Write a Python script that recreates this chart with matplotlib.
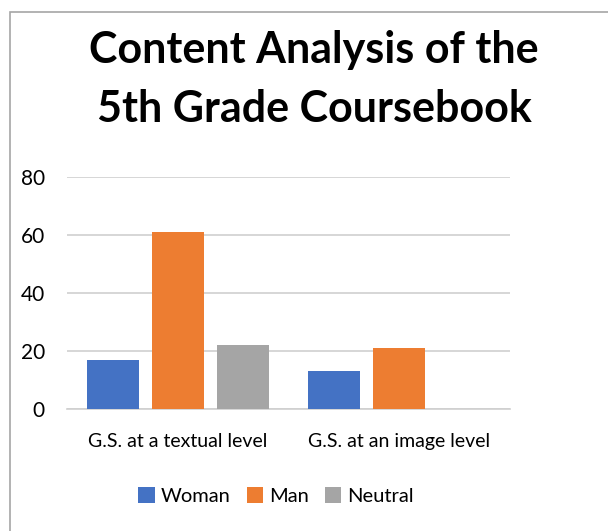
import matplotlib
matplotlib.use('Agg')
import matplotlib.pyplot as plt
import numpy as np
from matplotlib.patches import Rectangle

categories = ['G.S. at a textual level', 'G.S. at an image level']
series = ['Woman', 'Man', 'Neutral']
woman = [17, 13]
man = [61, 21]
neutral = [22, 0]
colors = ['#4472C4', '#ED7D31', '#A5A5A5']
yticks = [0, 20, 40, 60, 80]

plt.rcParams['font.family'] = ['Lato', 'DejaVu Sans']

W, H = 608, 531
fig = plt.figure(figsize=(W / 100, H / 100), dpi=100)

# frame of the chart area (cut off at right and bottom)
fig.patches.append(Rectangle((10 / W, -0.1), 1.2, 1 - 12 / H + 0.1, transform=fig.transFigure,
                             fill=False, edgecolor='#A6A6A6', linewidth=1.2))

ax = fig.add_axes([67 / W, 1 - 409 / H, 443 / W, 232 / H])

x = np.arange(len(categories))
width = 0.235
step = 0.293
for i, (name, vals) in enumerate(zip(series, [woman, man, neutral])):
    ax.bar(x + (i - 1) * step, vals, width=width, color=colors[i], label=name, zorder=3)

ax.set_xlim(-0.5, 1.5)
ax.set_ylim(0, 80)
ax.set_yticks(yticks)
ax.yaxis.grid(True, color='#CFCFCF', linewidth=1.2, zorder=0)
for s in ['top', 'right', 'left']:
    ax.spines[s].set_visible(False)
ax.spines['bottom'].set_color('#CFCFCF')
ax.spines['bottom'].set_linewidth(1.2)
ax.tick_params(axis='both', length=0, colors='#000000')
ax.tick_params(axis='y', pad=16, labelsize=15)
ax.tick_params(axis='x', pad=17, labelsize=14)
ax.set_xticks(x)
ax.set_xticklabels(categories)

fig.text(0.5 + 10 / W, 1 - 63 / H, 'Content Analysis of the', ha='center', va='baseline',
         fontsize=31, fontweight='bold')
fig.text(0.5 + 10 / W, 1 - 122 / H, '5th Grade Coursebook', ha='center', va='baseline',
         fontsize=31, fontweight='bold')

fig.legend(loc='center', bbox_to_anchor=(276 / W, 1 - 496 / H), ncol=3, frameon=False,
           fontsize=14.5, handlelength=0.8, handleheight=0.8, handletextpad=0.3, columnspacing=0.8)

fig.savefig('out.png', dpi=100)
